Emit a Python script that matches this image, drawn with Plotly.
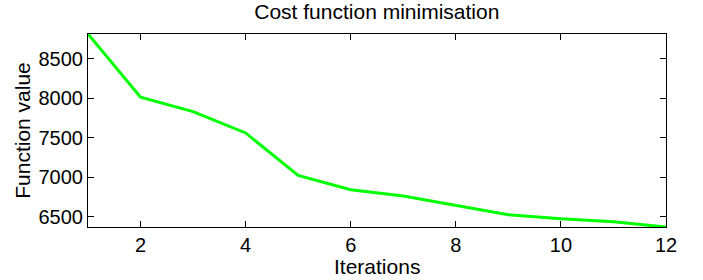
import plotly.graph_objects as go

iterations = [1, 2, 3, 4, 5, 6, 7, 8, 9, 10, 11, 12]
cost = [8814, 8015, 7832, 7562, 7025, 6844, 6765, 6650, 6528, 6475, 6437, 6372]
x_ticks = [2, 4, 6, 8, 10, 12]
y_ticks = [6500, 7000, 7500, 8000, 8500]

fig = go.Figure()
fig.add_trace(go.Scatter(x=iterations, y=cost, mode="lines",
                         line=dict(color="#00ff00", width=3), cliponaxis=False))

family = "Liberation Sans, Arial, sans-serif"
tick_font = dict(family=family, size=20, color="black")
label_font = dict(family=family, size=21, color="black")
axis_common = dict(showgrid=False, zeroline=False, showline=True, linecolor="black",
                   linewidth=1, mirror="ticks", ticks="inside", ticklen=6,
                   tickcolor="black", tickfont=tick_font, automargin=False)
fig.update_layout(
    width=703, height=280,
    margin=dict(l=88, r=37, t=34, b=53),
    paper_bgcolor="white", plot_bgcolor="white",
    showlegend=False,
    title=dict(text="Cost function minimisation", x=0.536, xanchor="center",
               y=0.957, yanchor="middle", font=label_font),
    xaxis=dict(axis_common, range=[1, 12], tickvals=x_ticks),
    yaxis=dict(axis_common, range=[min(cost), max(cost)], tickvals=y_ticks,
               title=dict(text="Function value", font=label_font, standoff=2)),
    annotations=[dict(text="Iterations", xref="paper", yref="paper", x=0.5, y=-0.1347,
                      xanchor="center", yanchor="top", showarrow=False, font=label_font)],
)
fig.write_html("out.html", config={"displayModeBar": False},
               post_script="document.body.style.margin='0';")
